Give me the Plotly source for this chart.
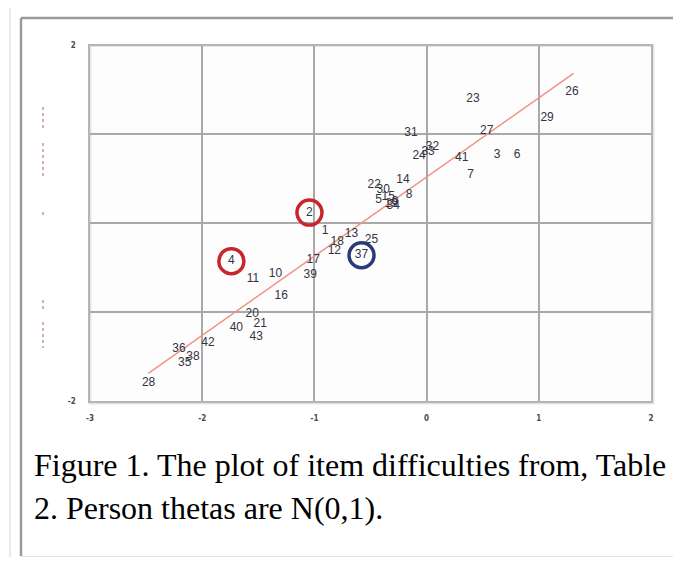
import plotly.graph_objects as go

# The page body has an 8px margin, so the figure is sized to fit the window
OFF = 8
W, H = 681 - 2 * OFF, 565 - 2 * OFF

# ---- data ----
item_labels = [str(i) for i in range(1, 44)]
item_x = [-0.905, -1.044, 0.629, -1.740, -0.429, 0.807, 0.393, -0.156, -0.280, -1.347,
          -1.548, -0.822, -0.669, -0.211, -0.342, -1.295, -1.011, -0.797, -0.316, -1.554,
          -1.483, -0.467, 0.413, -0.067, -0.492, 1.296, 0.536, -2.478, 1.074, -0.387,
          -0.140, 0.052, 0.013, -0.298, -2.156, -2.207, -0.580, -2.082, -1.037, -1.696,
          0.313, -1.948, -1.518]
item_y = [-0.087, 0.120, 0.764, -0.427, 0.258, 0.772, 0.539, 0.322, 0.236, -0.576,
          -0.629, -0.311, -0.124, 0.483, 0.292, -0.820, -0.416, -0.210, 0.213, -1.022,
          -1.135, 0.427, 1.401, 0.756, -0.191, 1.475, 1.037, -1.794, 1.183, 0.371,
          1.019, 0.857, 0.798, 0.191, -1.570, -1.419, -0.360, -1.502, -0.584, -1.183,
          0.734, -1.352, -1.278]
trend_x = [-2.48, 1.31]
trend_slope = 0.891
trend_intercept = 0.52
trend_y = [trend_slope * v + trend_intercept for v in trend_x]
red_items = ["2", "4"]
blue_items = ["37"]
x_ticks = [-3, -2, -1, 0, 1, 2]
x_tick_text = ["-3", "-2", "-1", "0", "1", "2"]
y_ticks = [-2, -1, 0, 1, 2]
y_tick_text = ["-2", "", "", "", "2"]
caption_lines = ["Figure 1. The plot of item difficulties from, Table",
                 "2. Person thetas are N(0,1)."]

# ---- page-pixel helpers for layout decorations ----
def px(x):
    return (x - OFF) / W

def py(y):
    return 1 - (y - OFF) / H

PL, PR, PT, PB = 90, 651, 45.5, 401

fig = go.Figure()

fig.add_trace(go.Scatter(
    x=trend_x, y=trend_y, mode="lines",
    line=dict(color="#f29184", width=1.5), hoverinfo="skip", showlegend=False))

fig.add_trace(go.Scatter(
    x=item_x, y=item_y, mode="text", text=item_labels,
    textposition="middle center",
    textfont=dict(family="Liberation Sans Narrow, Liberation Sans, Arial", size=12, color="#34343e"),
    showlegend=False))

def circle_trace(items, color):
    xs = [item_x[item_labels.index(s)] for s in items]
    ys = [item_y[item_labels.index(s)] for s in items]
    return go.Scatter(x=xs, y=ys, mode="markers",
                      marker=dict(symbol="circle-open", size=25,
                                  line=dict(color=color, width=3.5), color=color),
                      showlegend=False, hoverinfo="skip")

fig.add_trace(circle_trace(red_items, "#c8262a"))
fig.add_trace(circle_trace(blue_items, "#2b3a7a"))

shapes = []
# outer page lines
shapes.append(dict(type="line", xref="paper", yref="paper", x0=px(10), x1=px(681), y0=py(5), y1=py(5),
                   line=dict(color="#ebebeb", width=2)))
shapes.append(dict(type="line", xref="paper", yref="paper", x0=px(10), x1=px(10), y0=py(5), y1=py(565),
                   line=dict(color="#ebebeb", width=2)))
# figure frame
shapes.append(dict(type="line", xref="paper", yref="paper", x0=px(21), x1=px(674), y0=py(18), y1=py(18),
                   line=dict(color="#9a9a9a", width=2.5)))
shapes.append(dict(type="line", xref="paper", yref="paper", x0=px(21), x1=px(21), y0=py(18), y1=py(556),
                   line=dict(color="#9a9a9a", width=2.5)))
shapes.append(dict(type="line", xref="paper", yref="paper", x0=px(675), x1=px(675), y0=py(18), y1=py(557),
                   line=dict(color="#e2e2e2", width=2)))
shapes.append(dict(type="line", xref="paper", yref="paper", x0=px(21), x1=px(676), y0=py(557), y1=py(557),
                   line=dict(color="#e2e2e2", width=2)))
# faint garbled axis title marks
for a, b in [(107, 128), (143, 178), (212, 216), (300, 312), (322, 348)]:
    shapes.append(dict(type="line", xref="paper", yref="paper", x0=px(43), x1=px(43), y0=py(a), y1=py(b),
                       line=dict(color="#c49a8a", width=1.5, dash="dot")))
# plot area soft shadow
shapes.append(dict(type="rect", xref="paper", yref="paper", x0=px(PL), x1=px(PR + 2), y0=py(PB + 2), y1=py(PT),
                   line=dict(color="#e4e4e4", width=3), layer="below"))

fig.update_layout(shapes=shapes)

annotations = []
for text, yy in zip(caption_lines, [465, 508]):
    annotations.append(dict(x=px(32), y=py(yy), xref="paper", yref="paper", text=text,
                            showarrow=False, xanchor="left", yanchor="middle",
                            font=dict(family="Liberation Serif, Times New Roman, serif", size=32, color="#000")))
fig.update_layout(annotations=annotations)

tick_font = dict(family="DejaVu Sans Condensed, DejaVu Sans", size=8, color="#4a4a4a", weight="bold")

fig.update_layout(
    width=W, height=H,
    margin=dict(l=0, r=0, t=0, b=0, autoexpand=False),
    paper_bgcolor="#ffffff", plot_bgcolor="#fdfdfd",
    xaxis=dict(domain=[px(PL), px(PR)], range=[-3, 2], tickvals=x_ticks, ticktext=x_tick_text,
               showgrid=True, gridcolor="#a9a9a9", gridwidth=1.5, zeroline=False,
               showline=True, mirror=True, linecolor="#b5b5b5", linewidth=1.5,
               ticks="outside", ticklen=9, tickcolor="rgba(0,0,0,0)",
               tickfont=tick_font, fixedrange=True),
    yaxis=dict(domain=[py(PB), py(PT)], range=[-2, 2], tickvals=y_ticks, ticktext=y_tick_text,
               showgrid=True, gridcolor="#a9a9a9", gridwidth=1.5, zeroline=False,
               showline=True, mirror=True, linecolor="#b5b5b5", linewidth=1.5,
               ticks="outside", ticklen=11, tickcolor="rgba(0,0,0,0)",
               tickfont=tick_font, fixedrange=True),
)

fig.write_html("out.html")
